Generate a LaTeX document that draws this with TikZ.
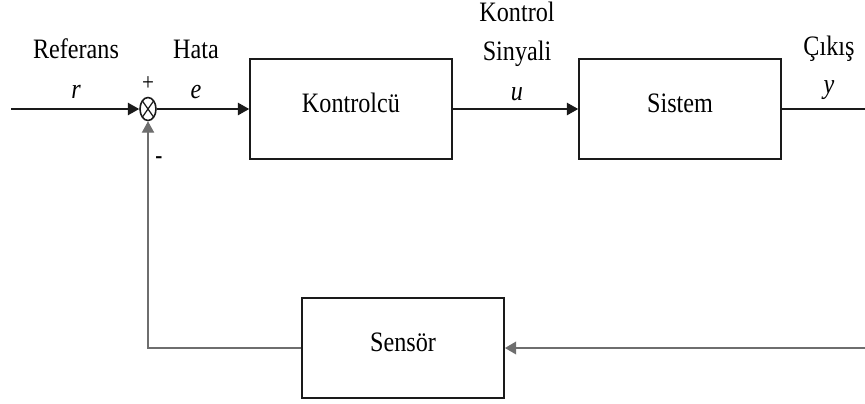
\documentclass[tikz,border=0pt]{standalone}
\usepackage{fontspec}
\setmainfont[FakeStretch=0.86]{Liberation Serif}
\usepackage{tikz}
\usepackage{xcolor}
\usetikzlibrary{arrows.meta,positioning,calc,shapes.geometric}
\definecolor{cInk}{HTML}{1A1A1A}
\definecolor{cFb}{HTML}{6E6E6E}
\tikzset{
  >={Triangle[length=6.5pt,width=7pt]},
  blk/.style ={draw=cInk,line width=0.9pt,minimum width=4.04cm,minimum height=2cm,
               text height=0.38cm,text depth=0.26cm,font=\fontsize{16}{19}\selectfont},
  ar/.style  ={->,line width=1.1pt,cInk},
  ln/.style  ={line width=1.1pt,cInk},
  lbl/.style ={font=\fontsize{16}{19}\selectfont,inner sep=0pt,text height=1.5ex,text depth=0.25ex},
  sumj/.style={ellipse,draw=cInk,line width=0.9pt,minimum width=0.32cm,minimum height=0.46cm,inner sep=0pt,
               path picture={\draw[cInk,line width=0.7pt]
                 (path picture bounding box.north west)--(path picture bounding box.south east)
                 (path picture bounding box.south west)--(path picture bounding box.north east);}},
}
\begin{document}
\begin{tikzpicture}[x=0.02cm,y=-0.02cm]
\useasboundingbox (0,0) rectangle (865,403);
% blocks
\node[sumj]      (sum)   at (148,109) {};
\node[blk]       (ctrl)  at (351,109) {Kontrolcü};
\node[blk]       (plant) at (680,109) {Sistem};
\node[blk]       (sens)  at (403,348) {Sensör};
\coordinate (in)  at (11,109);
\coordinate (out) at (865,109);
\coordinate (fb)  at (865,348);
% signal labels
\node[lbl] (lref)  at (76,53)  {Referans};
\node[lbl] (lr)    at (76,93)  {\textit{r}};
\node[lbl] (lhata) at (196,53) {Hata};
\node[lbl] (le)    at (196,93) {\textit{e}};
\node[lbl] (lk1)   at (517,16) {Kontrol};
\node[lbl] (lk2)   at (517,55) {Sinyali};
\node[lbl] (lu)    at (517,95) {\textit{u}};
\node[lbl] (lcik)  at (829,50) {Çıkış};
\node[lbl] (ly)    at (829,88) {\textit{y}};
\node[lbl,font=\fontsize{14}{16}\selectfont] (lplus) at (148,85) {+};
\node[lbl,font=\bfseries\fontsize{14}{16}\selectfont] (lminus) at (159,158) {-};
% connectors
\draw[ar] (in)--(sum);
\draw[ar] (sum)--(ctrl);
\draw[ar] (ctrl)--(plant);
\draw[ln] (plant)--(out);
\draw[->,line width=1.6pt,cFb] (fb)--(sens);
\draw[->,line width=0.7pt,cFb] (sens.west)-|(sum.south);
\end{tikzpicture}
\end{document}
